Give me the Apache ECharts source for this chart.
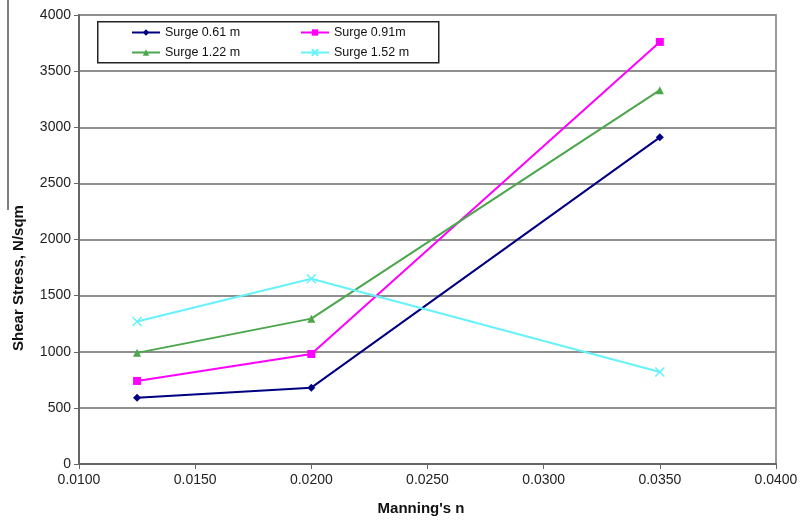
<!DOCTYPE html>
<html>
<head>
<meta charset="utf-8">
<script src="https://cdn.jsdelivr.net/npm/echarts@6/dist/echarts.min.js"></script>
<style>
  html, body { margin: 0; padding: 0; background: #fff; }
  #chart { width: 803px; height: 523px; }
</style>
</head>
<body>
<div id="chart"></div>
<script>
// Manning's n values tested
const manningN = [0.0125, 0.0200, 0.0350];

// Shear stress (N/sqm) for each surge height
const surge061 = [590, 680, 2910];
const surge091 = [740, 980, 3760];
const surge122 = [990, 1295, 3330];
const surge152 = [1270, 1650, 820];

const seriesNames = ['Surge 0.61 m', 'Surge 0.91m', 'Surge 1.22 m', 'Surge 1.52 m'];
const seriesColors = ['#000080', '#ff00ff', '#4ca64c', '#66f2f8'];
const crossPath = 'path://M0,0L10,10M10,0L0,10';

function pairs(ys) {
  return manningN.map((x, i) => [x, ys[i]]);
}

const chart = echarts.init(document.getElementById('chart'), null, { renderer: 'canvas' });

function lineSeries(name, ys, color, symbol, size, extra) {
  return Object.assign({
    name: name,
    type: 'line',
    data: pairs(ys),
    symbol: symbol,
    symbolSize: size,
    showSymbol: true,
    lineStyle: { color: color, width: 2 },
    itemStyle: { color: color, borderColor: color, borderWidth: 0 },
    emphasis: { disabled: true },
    animation: false,
    z: 3
  }, extra || {});
}

const legendText = { fontFamily: 'Arial, "Liberation Sans", sans-serif', fontSize: 12.5, color: '#111' };

chart.setOption({
  animation: false,
  grid: {
    left: 79, right: 27, top: 15, bottom: 59,
    show: true, borderColor: '#9a9a9a', borderWidth: 2, backgroundColor: '#fff'
  },
  legend: [
    {
      data: [seriesNames[0], seriesNames[2]],
      orient: 'vertical', left: 131, top: 26,
      itemWidth: 28, itemHeight: 8, itemGap: 7, padding: 0,
      textStyle: legendText
    },
    {
      data: [seriesNames[1], seriesNames[3]],
      orient: 'vertical', left: 300, top: 26,
      itemWidth: 28, itemHeight: 8, itemGap: 7, padding: 0,
      textStyle: legendText
    }
  ],
  xAxis: {
    type: 'value', min: 0.010, max: 0.040, interval: 0.005,
    axisLine: { lineStyle: { color: '#666', width: 2 } },
    axisTick: { show: true, inside: false, length: 5, lineStyle: { color: '#666' } },
    axisLabel: {
      formatter: v => v.toFixed(4), margin: 9,
      fontFamily: 'Arial, "Liberation Sans", sans-serif', fontSize: 14, color: '#222'
    },
    splitLine: { show: false }
  },
  yAxis: {
    type: 'value', min: 0, max: 4000, interval: 500,
    axisLine: { show: true, lineStyle: { color: '#666', width: 2 } },
    axisTick: { show: true, inside: false, length: 5, lineStyle: { color: '#666' } },
    axisLabel: {
      formatter: v => String(v), margin: 8,
      fontFamily: 'Arial, "Liberation Sans", sans-serif', fontSize: 14, color: '#222'
    },
    splitLine: { show: true, lineStyle: { color: '#8f8f8f', width: 2 } }
  },
  graphic: [
    {
      type: 'rect', left: 97, top: 21, z: 50, silent: true,
      shape: { width: 341, height: 41 },
      style: { fill: 'rgba(255,255,255,0)', stroke: '#222', lineWidth: 1.5 }
    },
    {
      type: 'line', silent: true,
      shape: { x1: 8, y1: 0, x2: 8, y2: 210 },
      style: { stroke: '#555', lineWidth: 1.5 }
    },
    {
      type: 'text', silent: true,
      x: 19, y: 278, rotation: Math.PI / 2,
      style: {
        text: 'Shear Stress, N/sqm', align: 'center', verticalAlign: 'middle',
        font: 'bold 15px Arial, "Liberation Sans", sans-serif', fill: '#111'
      }
    },
    {
      type: 'text', silent: true,
      x: 421, y: 509,
      style: {
        text: "Manning's n", align: 'center', verticalAlign: 'middle',
        font: 'bold 15px Arial, "Liberation Sans", sans-serif', fill: '#111'
      }
    }
  ],
  series: [
    lineSeries(seriesNames[0], surge061, seriesColors[0], 'diamond', 8),
    lineSeries(seriesNames[1], surge091, seriesColors[1], 'rect', 8),
    lineSeries(seriesNames[2], surge122, seriesColors[2], 'triangle', 8),
    lineSeries(seriesNames[3], surge152, seriesColors[3], crossPath, 9, {
      itemStyle: { color: 'none', borderColor: seriesColors[3], borderWidth: 1.5 }
    })
  ]
});
</script>
</body>
</html>
